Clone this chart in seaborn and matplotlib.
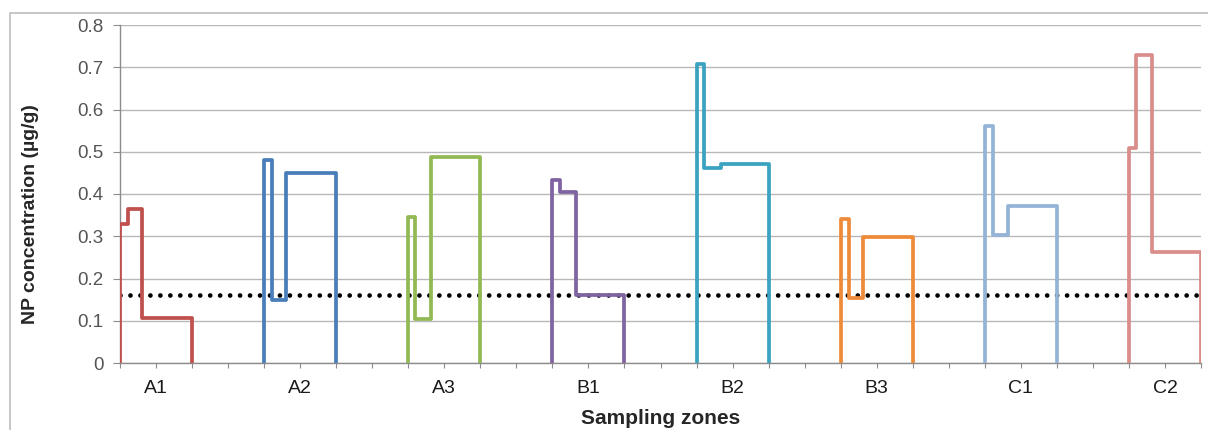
import pandas as pd
import seaborn as sns
import matplotlib.pyplot as plt
from matplotlib.patches import Rectangle

# zones and their sub-sample step profiles (x breaks in axis units within each zone)
zones = ["A1", "A2", "A3", "B1", "B2", "B3", "C1", "C2"]
zone_breaks = [
    [0, 0.22, 0.61, 2.0],
    [0, 0.21, 0.61, 2.0],
    [0, 0.19, 0.63, 2.0],
    [0, 0.21, 0.66, 2.0],
    [0, 0.22, 0.67, 2.0],
    [0, 0.23, 0.63, 2.0],
    [0, 0.23, 0.65, 2.0],
    [0, 0.20, 0.63, 2.0],
]
zone_values = [
    [0.330, 0.365, 0.107],
    [0.480, 0.148, 0.450],
    [0.346, 0.104, 0.488],
    [0.432, 0.405, 0.162],
    [0.708, 0.462, 0.471],
    [0.341, 0.153, 0.298],
    [0.562, 0.302, 0.372],
    [0.510, 0.728, 0.262],
]
threshold = 0.16
zone_colors = ["#C0504D", "#4A7EBB", "#92B954", "#8064A2",
               "#3BA3C0", "#EE8B3A", "#95B3D7", "#D98E8C"]

zone_spacing = 4  # each zone takes 2 units, followed by a 2-unit gap

rows = []
for i, (zone, breaks, vals) in enumerate(zip(zones, zone_breaks, zone_values)):
    start = i * zone_spacing
    rows.append({"x": start + breaks[0], "y": 0.0, "zone": zone})
    for b, v in zip(breaks[:-1], vals):
        rows.append({"x": start + b, "y": v, "zone": zone})
    rows.append({"x": start + breaks[-1], "y": 0.0, "zone": zone})
df = pd.DataFrame(rows)

sns.set_style("white")
plt.rcParams["font.family"] = ["Liberation Sans", "DejaVu Sans"]

fig = plt.figure(figsize=(12.08, 4.30), dpi=100)
ax = fig.add_axes([120 / 1208, 1 - 363 / 430, 1081 / 1208, 338 / 430])

fig.patches.append(Rectangle((10 / 1208, -0.1), 1.2, 0.1 + 1 - 13 / 430,
                             transform=fig.transFigure, fill=False,
                             edgecolor="#BDBDBD", lw=1.2))

ax.yaxis.grid(True, color="#B8B8B8", lw=1)
ax.set_axisbelow(True)

ax.axhline(threshold, color="black", lw=3.4, linestyle=(0, (0.01, 2.1)),
           dash_capstyle="round", zorder=1)

sns.lineplot(data=df, x="x", y="y", hue="zone", palette=zone_colors,
             estimator=None, sort=False, drawstyle="steps-post",
             lw=2.7, legend=False, ax=ax, zorder=3)

n_units = zone_spacing * (len(zones) - 1) + 2
ax.set_xlim(0, n_units)
ax.set_ylim(0, 0.8)
ax.set_yticks([i / 10 for i in range(9)])
ax.set_yticklabels(["0"] + [f"{i / 10:.1f}" for i in range(1, 9)])

ax.xaxis.remove_overlapping_locs = False
ax.set_xticks(range(n_units + 1))
ax.set_xticklabels([])
ax.set_xticks([i * zone_spacing + 1 for i in range(len(zones))], minor=True)
ax.set_xticklabels(zones, minor=True)
ax.tick_params(axis="x", which="major", length=3.6, color="#8C8C8C", direction="out")
ax.tick_params(axis="x", which="minor", length=0, pad=12, labelsize=14, colors="#1A1A1A")
ax.tick_params(axis="y", length=5, color="#8C8C8C", pad=7, labelsize=13.5, labelcolor="#555555")
ax.xaxis.set_ticks_position("bottom")
ax.yaxis.set_ticks_position("left")

for side in ["top", "right"]:
    ax.spines[side].set_visible(False)
for side in ["left", "bottom"]:
    ax.spines[side].set_color("#8C8C8C")
    ax.spines[side].set_linewidth(1)

ax.set_xlabel("Sampling zones", fontsize=15, fontweight="bold", va="center")
ax.xaxis.set_label_coords(0.5, -(418 - 363) / 338)
ax.set_ylabel("NP concentration (µg/g)", fontsize=14, fontweight="bold", va="center")
ax.yaxis.set_label_coords(-(120 - 31) / 1081, (363 - 214) / 338)

fig.savefig("out.png", dpi=100)
